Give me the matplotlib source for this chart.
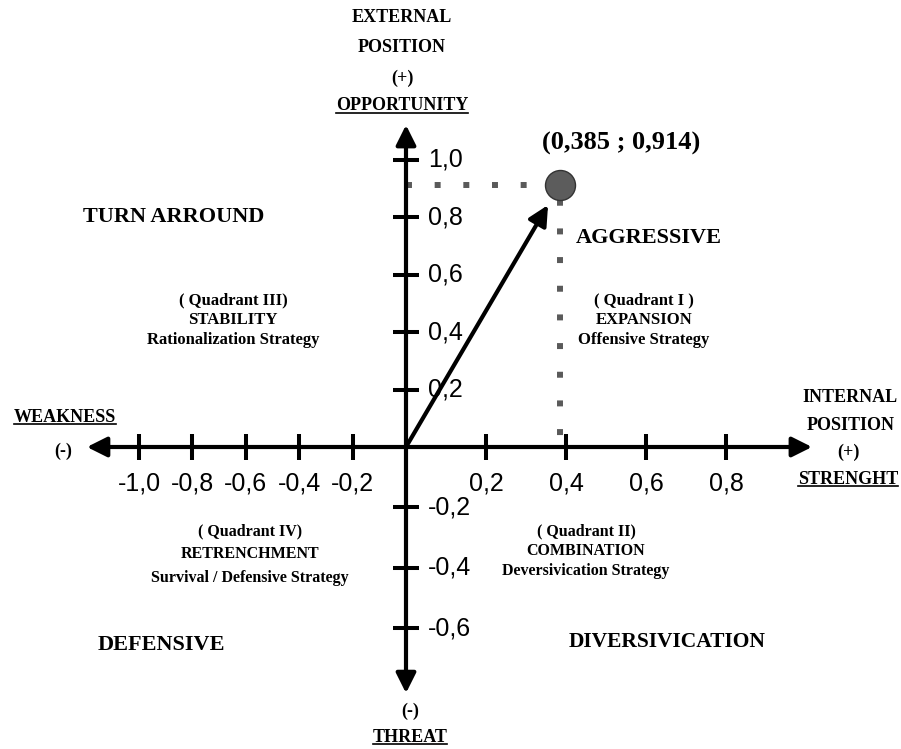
import matplotlib
matplotlib.use('Agg')
import matplotlib.pyplot as plt
import numpy as np
from matplotlib.lines import Line2D

# company position on the SPACE matrix
point_x = 0.385
point_y = 0.914
point_label = '(0,385 ; 0,914)'

x_ticks = [-1.0, -0.8, -0.6, -0.4, -0.2, 0.2, 0.4, 0.6, 0.8]
y_ticks = [1.0, 0.8, 0.6, 0.4, 0.2, -0.2, -0.4, -0.6]

# arrow ends of the two axes
x_left, x_right = -1.195, 1.015
y_bottom, y_top = -0.815, 1.122

W, H = 901, 749
SERIF = 'Liberation Serif'
SANS = 'Liberation Sans'


def tick_text(v):
    return ('%.1f' % v).replace('.', ',')


# the original drawing is not to scale: each half of an axis has its own step
def piecewise(neg, pos):
    def fwd(v):
        v = np.asarray(v, dtype=float)
        return np.where(v < 0, v * neg, v * pos)

    def inv(v):
        v = np.asarray(v, dtype=float)
        return np.where(v < 0, v / neg, v / pos)
    return fwd, inv


fig = plt.figure(figsize=(W / 100, H / 100), dpi=100)
ax = fig.add_axes([0, 0, 1, 1])
ax.set_xscale('function', functions=piecewise(267, 400))
ax.set_yscale('function', functions=piecewise(302, 287))
ax.set_xlim(-406 / 267, (W - 406) / 400)
ax.set_ylim(-(H - 447) / 302, 447 / 287)
ax.axis('off')

# axes with arrow heads
arrow = dict(arrowstyle='<|-|>', color='black', lw=3, mutation_scale=30,
             shrinkA=0, shrinkB=0)
ax.annotate('', xy=(x_left, 0), xytext=(x_right, 0), arrowprops=arrow)
ax.annotate('', xy=(0, y_bottom), xytext=(0, y_top), arrowprops=arrow)

# tick marks
ax.plot(x_ticks, np.zeros(len(x_ticks)), ls='none', marker='|', ms=19,
        mew=2.9, color='black')
ax.plot(np.zeros(len(y_ticks)), y_ticks, ls='none', marker='_', ms=19,
        mew=2.9, color='black')

for v in x_ticks:
    ax.annotate(tick_text(v), xy=(v, 0), xytext=(0, -26), textcoords='offset points',
                ha='center', va='center', fontsize=18, family=SANS)
for v in y_ticks:
    ax.annotate(tick_text(v), xy=(0, v), xytext=(16, 0), textcoords='offset points',
                ha='left', va='center', fontsize=18, family=SANS)

# dotted guides to the point
guide = '#5a5a5a'
ax.plot([0, point_x], [point_y, point_y], color=guide, lw=4.3,
        ls=(0, (1, 3.8)), zorder=1)
ax.plot([point_x, point_x], [0, point_y], color=guide, lw=4.3,
        ls=(2.8, (1, 3.8)), zorder=1)

# vector from origin to the point
ax.annotate('', xy=(point_x, point_y), xytext=(0, 0),
            arrowprops=dict(arrowstyle='-|>', color='black', lw=3,
                            mutation_scale=30, shrinkA=0, shrinkB=17), zorder=3)
ax.plot(point_x, point_y, 'o', ms=21.6, mfc='#5c5c5c', mec='#333333', mew=1,
        zorder=4)


def px(x, y):
    return x / W, 1 - y / H


def label(x, y, s, size=13, underline=False, **kw):
    fx, fy = px(x, y)
    t = fig.text(fx, fy, s, ha='center', va='center', fontsize=size,
                 family=SERIF, weight='bold', **kw)
    if underline:
        underlined.append(t)
    return t


underlined = []

label(402, 18, 'EXTERNAL')
label(402, 47, 'POSITION')
label(402, 78, '(+)')
label(402, 106, 'OPPORTUNITY', underline=True)

label(850, 397, 'INTERNAL')
label(851, 425, 'POSITION')
label(848, 452, '(+)')
label(848, 479, 'STRENGHT', underline=True)

label(65, 417, 'WEAKNESS', underline=True)
label(63, 451, '(-)')

label(410, 711, '(-)')
label(410, 737, 'THREAT', underline=True)

label(621, 143, point_label, size=19)

label(174, 217, 'TURN ARROUND', size=16)
label(649, 238, 'AGGRESSIVE', size=16)
label(161, 645, 'DEFENSIVE', size=16)
label(667, 642, 'DIVERSIVICATION', size=15.5)

for i, s in enumerate(['( Quadrant III)', 'STABILITY', 'Rationalization Strategy']):
    label(233, 300 + 20 * i, s, size=12)
for i, s in enumerate(['( Quadrant I )', 'EXPANSION', 'Offensive Strategy']):
    label(644, 300 + 20 * i, s, size=12)
for i, s in enumerate(['( Quadrant IV)', 'RETRENCHMENT', 'Survival / Defensive Strategy']):
    label(250, 531 + 23.5 * i, s, size=11.5)
for i, s in enumerate(['( Quadrant II)', 'COMBINATION', 'Deversivication Strategy']):
    label(586, 531 + 20 * i, s, size=11.5)

# underline the axis names
fig.canvas.draw()
renderer = fig.canvas.get_renderer()
for t in underlined:
    bb = t.get_window_extent(renderer)
    yline = (bb.y0 + 2) / H
    fig.add_artist(Line2D([bb.x0 / W, bb.x1 / W], [yline, yline],
                          color='black', lw=1.2, transform=fig.transFigure))

fig.savefig('out.png', dpi=100)
